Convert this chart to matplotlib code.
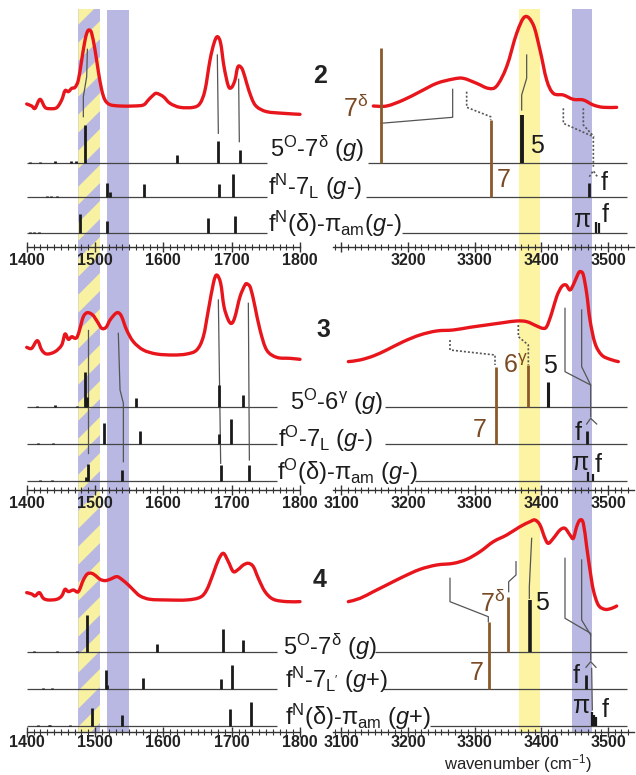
import numpy as np
import matplotlib
matplotlib.use('Agg')
import matplotlib.pyplot as plt
from matplotlib.patches import Rectangle, Polygon, PathPatch
from matplotlib.path import Path

plt.rcParams['font.family'] = ['Liberation Sans', 'DejaVu Sans']
plt.rcParams['mathtext.fontset'] = 'custom'
plt.rcParams['mathtext.rm'] = 'Liberation Sans'
plt.rcParams['mathtext.it'] = 'Liberation Sans:italic'
plt.rcParams['mathtext.bf'] = 'Liberation Sans:bold'

W, H = 636, 775

# ---------------- DATA ----------------
# experimental spectra (absorbance, a.u.)
r1L_wn = [1400.0,1407.3,1412.2,1419.5,1426.8,1434.1,1443.9,1451.2,1456.1,1461.0,1465.9,1470.7,1475.6,1480.5,1485.4,1488.8,1491.7,1495.1,1500.0,1504.9,1509.8,1514.6,1522.0,1536.6,1556.1,1570.7,1578.0,1585.4,1590.2,1600.0,1609.8,1624.4,1643.9,1653.7,1661.0,1668.3,1674.1,1679.0,1683.9,1688.8,1695.1,1700.0,1704.9,1708.3,1711.2,1716.1,1722.0,1729.3,1736.6,1751.2,1775.6,1800.0]
r1L_abs = [0.33,0.27,0.20,0.47,0.23,0.19,0.22,0.45,0.73,0.70,0.80,0.83,1.05,1.65,2.25,2.50,2.55,2.45,1.95,1.30,0.75,0.45,0.31,0.27,0.27,0.30,0.45,0.60,0.65,0.55,0.35,0.23,0.23,0.35,0.75,1.65,2.15,2.35,2.15,1.45,0.87,0.83,1.05,1.40,1.47,1.35,0.95,0.50,0.25,0.10,0.05,0.02]
r1R_wn = [3148,3168,3193,3218,3243,3268,3283,3303,3320.5,3333,3348,3363,3375.5,3388,3398,3408,3418,3433,3448,3463,3478,3493,3513]
r1R_abs = [0.12,0.12,0.30,0.55,0.80,0.93,0.95,0.80,0.65,0.72,1.30,2.30,2.80,2.55,1.80,0.90,0.50,0.45,0.32,0.30,0.15,0.08,0.08]

r2L_wn = [1400.0,1407.3,1415.6,1422.0,1429.3,1441.5,1451.2,1456.1,1461.0,1465.9,1470.7,1474.1,1478.0,1482.9,1488.8,1496.6,1503.4,1509.8,1516.1,1522.0,1529.3,1534.1,1539.0,1546.3,1556.1,1570.7,1590.2,1614.6,1634.1,1648.8,1658.5,1665.9,1673.2,1678.0,1683.9,1688.8,1695.1,1700.0,1704.9,1712.2,1719.5,1722.9,1727.8,1734.1,1741.5,1751.2,1765.9,1785.4,1800.0]
r2L_abs = [0.38,0.35,0.58,0.30,0.18,0.25,0.45,0.78,0.62,0.70,0.65,0.70,0.95,1.30,1.42,1.35,1.15,0.95,0.98,1.20,1.38,1.42,1.30,0.90,0.55,0.30,0.18,0.15,0.18,0.30,0.70,1.50,2.30,2.55,2.30,1.60,1.20,1.10,1.30,1.90,2.25,2.28,2.15,1.60,0.90,0.30,0.08,0.05,0.02]
r2R_wn = [3110.5,3128,3148,3168,3193,3218,3243,3268,3293,3318,3343,3363,3378,3393,3402,3408,3415.5,3423,3430.5,3437,3443,3449,3455.5,3459,3463,3468,3473,3480.5,3490.5,3503,3515.5]
r2R_abs = [0.05,0.10,0.22,0.40,0.65,0.85,0.97,1.00,1.08,1.15,1.22,1.27,1.25,1.12,1.05,1.10,1.50,2.00,2.30,2.35,2.20,2.40,2.70,2.75,2.65,2.10,1.30,0.60,0.25,0.12,0.05]

r3L_wn = [1400.0,1407.3,1412.2,1418.5,1424.4,1431.7,1443.9,1451.2,1456.1,1461.0,1468.3,1475.6,1482.9,1488.8,1495.1,1501.5,1507.3,1514.6,1522.0,1531.7,1539.0,1548.8,1556.1,1565.9,1580.5,1604.9,1634.1,1653.7,1663.4,1673.2,1680.5,1687.8,1695.1,1702.4,1709.8,1717.1,1724.4,1731.7,1739.0,1748.8,1761.0,1780.5,1800.0]
r3L_abs = [0.32,0.28,0.22,0.32,0.15,0.10,0.12,0.22,0.42,0.35,0.40,0.35,0.70,0.88,0.90,0.82,0.72,0.68,0.72,0.80,0.72,0.55,0.40,0.22,0.12,0.10,0.10,0.18,0.40,0.90,1.30,1.50,1.25,0.95,1.02,1.15,1.20,1.10,0.75,0.35,0.12,0.05,0.05]
r3R_wn = [3110.5,3128,3148,3168,3193,3218,3243,3268,3288,3308,3328,3348,3368,3383,3390.5,3398,3405.5,3410.5,3418,3428,3435.5,3443,3448,3453,3458,3463,3468,3473,3478,3485.5,3495.5,3505.5,3513]
r3R_abs = [0.25,0.35,0.55,0.75,1.00,1.22,1.35,1.40,1.52,1.75,2.05,2.25,2.50,2.65,2.70,2.55,2.15,2.00,2.15,2.40,2.45,2.25,2.15,2.50,2.70,2.60,1.90,1.20,0.60,0.15,0.02,0.05,0.12]

# computed stick spectra (wavenumber, intensity a.u.), three conformers per compound
r1L_s1_wn = [1405,1420,1442,1465,1472,1485,1620,1680,1712]
r1L_s1_int = [1,1,2,1.5,2,38,8,22,13]
r1L_s2_wn = [1430,1435,1445,1517,1522,1571,1681,1702]
r1L_s2_int = [1,1,1,14,5,13,13,23]
r1L_s3_wn = [1405,1410,1418,1440,1478,1517,1666,1705]
r1L_s3_int = [1,1,1,0.5,19,12,15,17]

r2L_s1_wn = [1415,1442,1473,1485,1488,1560,1681,1717]
r2L_s1_int = [1,2,1,35,10,9,22,12]
r2L_s2_wn = [1417,1439,1513,1566,1681,1699]
r2L_s2_int = [1,0.5,21,13,10,25]
r2L_s3_wn = [1420,1437,1487,1490,1540,1684,1726]
r2L_s3_int = [0.7,1,4,17,11,16,16]

r3L_s1_wn = [1410,1424,1445,1473,1488,1590,1688,1717]
r3L_s1_int = [1,0.5,1.5,1,37,8,23,12]
r3L_s2_wn = [1424,1437,1516,1518,1570,1685,1701]
r3L_s2_int = [1,1,19,4,11,10,24]
r3L_s3_wn = [1417,1432,1434,1463,1495,1539,1697,1729]
r3L_s3_int = [1,1,0.5,0.5,18,11,17,24]

# NH / OH stretch sticks: black (5, f, pi) and brown (7, 6)
r1R_s1_wn, r1R_s1_int = [3370.5], [48]
r1R_s1_br_wn, r1R_s1_br_int = [3159], [115]
r1R_s2_wn, r1R_s2_int = [3472], [14]
r1R_s2_br_wn, r1R_s2_br_int = [3324], [77]
r1R_s3_wn, r1R_s3_int = [3482.5, 3487], [11, 10]

r2R_s1_wn, r2R_s1_int = [3409.5], [25]
r2R_s1_br_wn, r2R_s1_br_int = [3380.5], [42]
r2R_s2_wn, r2R_s2_int = [3468], [13]
r2R_s2_br_wn, r2R_s2_br_int = [3331.5], [77]
r2R_s3_wn, r2R_s3_int = [3470.5, 3478], [9, 7]

r3R_s1_wn, r3R_s1_int = [3383], [52]
r3R_s1_br_wn, r3R_s1_br_int = [3350.5], [55]
r3R_s2_wn, r3R_s2_int = [3466.5], [14]
r3R_s2_br_wn, r3R_s2_br_int = [3321.5], [67]
r3R_s3_wn, r3R_s3_int = [3476.5, 3479.5, 3482], [14, 11, 9]

row_numbers = ['2', '3', '4']
row_labels = [
    [r'$5^{\mathrm{O}}\text{-}7^{\mathrm{\delta}}\ (\mathit{g})$',
     r'$\mathrm{f}^{\mathrm{N}}\text{-}7_{\mathrm{L}}\ (\mathit{g}\text{-})$',
     r'$\mathrm{f}^{\mathrm{N}}(\mathrm{\delta})\text{-}\mathrm{\pi}_{\mathrm{am}}(\mathit{g}\text{-})$'],
    [r'$5^{\mathrm{O}}\text{-}6^{\mathrm{\gamma}}\ (\mathit{g})$',
     r'$\mathrm{f}^{\mathrm{O}}\text{-}7_{\mathrm{L}}\ (\mathit{g}\text{-})$',
     r'$\mathrm{f}^{\mathrm{O}}(\mathrm{\delta})\text{-}\mathrm{\pi}_{\mathrm{am}}\ (\mathit{g}\text{-})$'],
    [r'$5^{\mathrm{O}}\text{-}7^{\mathrm{\delta}}\ (\mathit{g})$',
     r"$\mathrm{f}^{\mathrm{N}}\text{-}7_{\mathrm{L'}}\ (\mathit{g}\text{+})$",
     r'$\mathrm{f}^{\mathrm{N}}(\mathrm{\delta})\text{-}\mathrm{\pi}_{\mathrm{am}}\ (\mathit{g}\text{+})$'],
]
left_ticks = [1400, 1500, 1600, 1700, 1800]
right_ticks = [3100, 3200, 3300, 3400, 3500]
hatch_band = (1475.6, 1507.3)
left_purple_band = (1517, 1549)
right_yellow_band = (3367, 3398)
right_purple_band = (3445.5, 3476.5)

# ---------------- STYLE / LAYOUT ----------------
RED = '#E8161C'
BROWN = '#8B5A2B'
BROWN_T = '#7A4A24'
PURPLE = '#B9B8E2'
YELLOW = '#FCF4A3'
GUIDE = '#555555'
TXT = '#1c1c1c'
SCALE = 33.33          # px per absorbance unit

LX0, LX1 = 26.7, 300.0
RX0, RX1 = 333.0, 634.0
LXLIM = (1400, 1800)
RXLIM = (3087.5, 3539)
row_top = [0, 262, 505]
row_axis = [247, 490, 732]
row_pad = [1, 1, -1]

fig = plt.figure(figsize=(W / 100, H / 100), dpi=100)
fig.patch.set_facecolor('white')


def T(x, y, s, **kw):
    kw.setdefault('color', TXT)
    return fig.text(x / W, 1 - y / H, s, **kw)


# background axes for the highlight bands
def bg_axes(x0, x1, xlim):
    a = fig.add_axes([x0 / W, 0, (x1 - x0) / W, 1], zorder=0)
    a.set_xlim(xlim)
    a.set_ylim(H, 0)
    a.axis('off')
    return a


bgL = bg_axes(LX0, LX1, LXLIM)
bgR = bg_axes(RX0, RX1, RXLIM)
BAND_TOP, BAND_BOT = 9, 732

# hatched band (purple with yellow diagonal stripes)
rect = Rectangle((hatch_band[0], BAND_TOP), hatch_band[1] - hatch_band[0], BAND_BOT - BAND_TOP,
                 facecolor=PURPLE, edgecolor='none')
bgL.add_patch(rect)
pxcm = (LX1 - LX0) / (LXLIM[1] - LXLIM[0])
P = 36.0
xa, xb = hatch_band
wa = (xb - xa) * pxcm
for c in np.arange(BAND_TOP - 60, BAND_BOT + 60, P):
    poly = Polygon([(xa, c + wa), (xb, c), (xb, c + P / 2), (xa, c + wa + P / 2)],
                   closed=True, facecolor='#F8F1A2', edgecolor='none')
    bgL.add_patch(poly)
    poly.set_clip_path(rect)
bgL.add_patch(Rectangle((left_purple_band[0], BAND_TOP + 1), left_purple_band[1] - left_purple_band[0],
                        BAND_BOT - BAND_TOP - 1, facecolor=PURPLE, edgecolor='none'))
bgR.add_patch(Rectangle((right_yellow_band[0], BAND_TOP), right_yellow_band[1] - right_yellow_band[0],
                        BAND_BOT - BAND_TOP, facecolor=YELLOW, edgecolor='none'))
bgR.add_patch(Rectangle((right_purple_band[0], BAND_TOP), right_purple_band[1] - right_purple_band[0],
                        BAND_BOT - BAND_TOP, facecolor=PURPLE, edgecolor='none'))


def row_axes(x0, x1, top, axis_y, xlim, ticks, labels, pad):
    a = fig.add_axes([x0 / W, 1 - axis_y / H, (x1 - x0) / W, (axis_y - top) / H], zorder=2)
    a.patch.set_alpha(0)
    a.set_xlim(xlim)
    a.set_ylim(axis_y, top)
    for s in ('top', 'left', 'right'):
        a.spines[s].set_visible(False)
    a.spines['bottom'].set_color('#333333')
    a.spines['bottom'].set_linewidth(1.0)
    a.set_yticks([])
    a.set_xticks(ticks, labels=labels, fontweight='bold',
                 family=['Liberation Sans Narrow', 'Liberation Sans'], fontsize=11.5)
    a.set_xticks(np.arange(xlim[0] - xlim[0] % 10 + 10, xlim[1], 10), minor=True)
    a.tick_params(axis='x', which='major', direction='inout', length=7, width=1.0,
                  color='#333333', pad=pad, labelcolor='#222222')
    a.tick_params(axis='x', which='minor', direction='inout', length=4, width=0.8, color='#333333')
    return a


def smooth(ax, xs, ys, **kw):
    p = np.column_stack([xs, ys]).astype(float)
    n = len(p)
    verts = [p[0]]
    codes = [Path.MOVETO]
    for i in range(n - 1):
        p0 = p[i - 1] if i > 0 else p[i]
        p1, p2 = p[i], p[i + 1]
        p3 = p[i + 2] if i + 2 < n else p[i + 1]
        verts += [p1 + (p2 - p0) / 6.0, p2 - (p3 - p1) / 6.0, p2]
        codes += [Path.CURVE4] * 3
    ax.add_patch(PathPatch(Path(verts, codes), fill=False, clip_on=False, **kw))


def spectrum(ax, wn, ab, base):
    y = base - np.asarray(ab) * SCALE
    smooth(ax, wn, y, edgecolor=RED, lw=2.4, capstyle='round', joinstyle='round', zorder=4)


def sticks(ax, wn, inten, base, color='#1a1a1a', lw=2.0):
    ax.vlines(wn, base, base - np.asarray(inten, float), colors=color, lw=lw, clip_on=False, zorder=5)


def baseline(ax, x0, x1, y):
    ax.hlines(y, x0, x1, colors='#444444', lw=0.9, clip_on=False, zorder=3)


def guides(ax, lines, dotted=False):
    for xs, ys in lines:
        ax.plot(xs, ys, color=GUIDE, lw=0.9 if not dotted else 1.2,
                ls=(0, (1.2, 1.2)) if dotted else '-', clip_on=False, zorder=3)


rt_lbls = [['', '3200', '3300', '3400', '3500'],
           ['3100', '3200', '3300', '3400', '3500'],
           ['3100', '3200', '3300', '3400', '3500']]
axL = [row_axes(LX0, LX1, row_top[i], row_axis[i], LXLIM, left_ticks,
                [str(t) for t in left_ticks], row_pad[i]) for i in range(3)]
axR = [row_axes(RX0, RX1, row_top[i], row_axis[i], RXLIM, right_ticks, rt_lbls[i], row_pad[i])
       for i in range(3)]

# ---- row 1 (compound 2)
b = [162.5, 196.5, 233]
spectrum(axL[0], r1L_wn, r1L_abs, 115)
for (w, h), y in zip([(r1L_s1_wn, r1L_s1_int), (r1L_s2_wn, r1L_s2_int), (r1L_s3_wn, r1L_s3_int)], b):
    baseline(axL[0], 1400, 1751, y)
    sticks(axL[0], w, h, y)
guides(axL[0], [([1482.9, 1482.9, 1487.8, 1488.8], [116.7, 96.7, 76.7, 49.3]),
                ([1680.5, 1679.0], [133.3, 55.0]),
                ([1711.2, 1710.2], [141.7, 79.3])])
spectrum(axR[0], r1R_wn, r1R_abs, 110)
for x0, y in zip([3140, 3137, 3191], b):
    baseline(axR[0], x0, 3528.5, y)
sticks(axR[0], r1R_s1_wn, r1R_s1_int, b[0], lw=2.8)
sticks(axR[0], r1R_s1_br_wn, r1R_s1_br_int, b[0], color=BROWN, lw=2.0)
sticks(axR[0], r1R_s2_wn, r1R_s2_int, b[1])
sticks(axR[0], r1R_s2_br_wn, r1R_s2_br_int, b[1], color=BROWN, lw=2.0)
sticks(axR[0], r1R_s3_wn, r1R_s3_int, b[2], lw=1.6)
guides(axR[0], [([3159, 3267, 3267], [123.3, 117.3, 89.3]),
                ([3370.5, 3370.5, 3378, 3378], [110, 95, 78.3, 55])])
guides(axR[0], [([3288, 3288, 3324, 3324], [91.7, 107.3, 116.7, 120]),
                ([3433, 3433, 3478, 3478], [108.3, 123.3, 136.7, 166.7]),
                ([3463, 3463, 3479], [108.3, 125, 136.7]),
                ([3472, 3478, 3484], [176.7, 170.7, 176.7])], dotted=True)

# ---- row 2 (compound 3)
b = [407, 444, 481]
spectrum(axL[1], r2L_wn, r2L_abs, 360)
for (w, h), y in zip([(r2L_s1_wn, r2L_s1_int), (r2L_s2_wn, r2L_s2_int), (r2L_s3_wn, r2L_s3_int)], b):
    baseline(axL[1], 1400, 1766, y)
    sticks(axL[1], w, h, y)
guides(axL[1], [([1490.2, 1490.2], [330, 452.7]),
                ([1534.1, 1536.6, 1541.5, 1541.5], [333.3, 390, 403.3, 461.7]),
                ([1680.5, 1683.9], [300, 463.3]),
                ([1724.4, 1725.9], [303.3, 460])])
spectrum(axR[1], r2R_wn, r2R_abs, 363.3)
for x0, y in zip([3165.5, 3165.5, 3210], b):
    baseline(axR[1], x0, 3528.5, y)
sticks(axR[1], r2R_s1_wn, r2R_s1_int, b[0], lw=2.2)
sticks(axR[1], r2R_s1_br_wn, r2R_s1_br_int, b[0], color=BROWN, lw=2.0)
sticks(axR[1], r2R_s2_wn, r2R_s2_int, b[1])
sticks(axR[1], r2R_s2_br_wn, r2R_s2_br_int, b[1], color=BROWN, lw=2.0)
sticks(axR[1], r2R_s3_wn, r2R_s3_int, b[2], lw=1.6)
guides(axR[1], [([3263, 3263, 3330.5, 3330.5], [340, 350, 355, 365]),
                ([3365.5, 3365.5, 3380.5, 3380.5], [325, 336.7, 345, 365])], dotted=True)
guides(axR[1], [([3435.5, 3435.5, 3474, 3474], [308.3, 371.7, 385, 416.7]),
                ([3460.5, 3460.5, 3474], [310, 366.7, 385]),
                ([3468, 3474, 3483], [424, 418.3, 424])])

# ---- row 3 (compound 4)
b = [652, 689, 725.5]
spectrum(axL[2], r3L_wn, r3L_abs, 603.3)
for (w, h), y in zip([(r3L_s1_wn, r3L_s1_int), (r3L_s2_wn, r3L_s2_int), (r3L_s3_wn, r3L_s3_int)], b):
    baseline(axL[2], 1400, 1766, y)
    sticks(axL[2], w, h, y)
spectrum(axR[2], r3R_wn, r3R_abs, 610)
for x0, y in zip([3150.5, 3162.5, 3233], b):
    baseline(axR[2], x0, 3528.5, y)
sticks(axR[2], r3R_s1_wn, r3R_s1_int, b[0], lw=2.6)
sticks(axR[2], r3R_s1_br_wn, r3R_s1_br_int, b[0], color=BROWN, lw=2.0)
sticks(axR[2], r3R_s2_wn, r3R_s2_int, b[1])
sticks(axR[2], r3R_s2_br_wn, r3R_s2_br_int, b[1], color=BROWN, lw=2.0)
sticks(axR[2], r3R_s3_wn, r3R_s3_int, b[2], lw=1.6)
guides(axR[2], [([3263, 3263, 3320.5, 3320.5], [578.3, 601.7, 616.7, 621.7]),
                ([3362, 3362, 3351, 3351], [561.7, 575, 581.7, 591.7]),
                ([3385.5, 3382, 3382], [538.3, 586.7, 598.3]),
                ([3435.5, 3435.5, 3474, 3474], [558.3, 618.3, 633.3, 660]),
                ([3460.5, 3460.5, 3474], [560, 620, 635]),
                ([3467, 3474, 3482], [667.3, 661.7, 667.3]),
                ([3475.5, 3476.5], [668.3, 710])])

# ---------------- TEXT ----------------
FS = 17
lab_pos = [[(270, 157), (268, 195), (268, 232)],
           [(290, 410), (278, 447), (277, 480)],
           [(283, 655), (285, 688), (285, 725)]]
for r in range(3):
    for (x, y), s in zip(lab_pos[r], row_labels[r]):
        T(x, y, s, fontsize=FS, ha='left', va='baseline')
for s, (x, y) in zip(row_numbers, [(313, 83), (316, 337), (313, 587)]):
    T(x, y, s, fontsize=18, fontweight='bold', ha='left', va='baseline', color='#222222')

FS2 = 18
# row 1 right
T(343, 117, r'$7^{\mathrm{\delta}}$', fontsize=FS2, color=BROWN_T, va='baseline')
T(530, 153, '5', fontsize=FS2, va='baseline')
T(497, 187, '7', fontsize=FS2, color=BROWN_T, va='baseline')
T(601, 190, 'f', fontsize=FS2, va='baseline')
T(573, 227, 'π', fontsize=FS2, va='baseline')
T(602, 222, 'f', fontsize=FS2, va='baseline')
# row 2 right
T(503, 373, r'$6^{\mathrm{\gamma}}$', fontsize=FS2, color=BROWN_T, va='baseline')
T(543, 373, '5', fontsize=FS2, va='baseline')
T(473, 437, '7', fontsize=FS2, color=BROWN_T, va='baseline')
T(575, 440, 'f', fontsize=FS2, va='baseline')
T(571, 470, 'π', fontsize=FS2, va='baseline')
T(595, 472, 'f', fontsize=FS2, va='baseline')
# row 3 right
T(480, 612, r'$7^{\mathrm{\delta}}$', fontsize=FS2, color=BROWN_T, va='baseline')
T(535, 610, '5', fontsize=FS2, va='baseline')
T(470, 680, '7', fontsize=FS2, color=BROWN_T, va='baseline')
T(573, 683, 'f', fontsize=FS2, va='baseline')
T(572, 713, 'π', fontsize=FS2, va='baseline')
T(602, 717, 'f', fontsize=FS2, va='baseline')

T(518, 769.5, r'wavenumber (cm$^{-1}$)', fontsize=12, ha='center', va='baseline', color='#222222')

fig.savefig('out.png', dpi=100)
